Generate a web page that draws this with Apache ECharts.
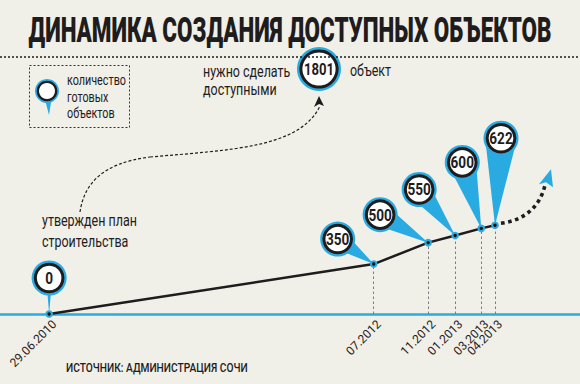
<!DOCTYPE html>
<html><head><meta charset="utf-8">
<script src="https://cdn.jsdelivr.net/npm/echarts@6/dist/echarts.min.js"></script>
<style>html,body{margin:0;padding:0;background:#f0efe8;}#c{width:580px;height:384px;}</style>
</head><body><div id="c"></div>
<script>
// ---- data ----
const dates = ['2010-06-29','2012-07-01','2012-11-01','2013-01-01','2013-03-01','2013-04-01'];
const dateLabels = ['29.06.2010','07.2012','11.2012','01.2013','03.2013','04.2013'];
const counts = [0,350,500,550,600,622];
const target = 1801;
const titleText = 'ДИНАМИКА СОЗДАНИЯ ДОСТУПНЫХ ОБЪЕКТОВ';
const legendText = 'количество\nготовых\nобъектов';
const targetNote = 'нужно сделать\nдоступными';
const targetUnit = 'объект';
const planNote = 'утвержден план\nстроительства';
const sourceText = 'ИСТОЧНИК: АДМИНИСТРАЦИЯ СОЧИ';

// ---- styling (pixel offsets of pin heads relative to their points) ----
const pinOffsets = [[0,-36],[-36,-25],[-48,-28],[-36,-46],[-19,-66],[6,-87]];
const tailHalfWidths = [3,10,11.5,11.5,14,16];
const BLUE = '#29abe2', INK = '#1e1c1d', BG = '#f0efe8';
const FONT = 'Roboto, "Noto Sans", sans-serif';

const ts = s => { const [y,m,d] = s.split('-').map(Number); return Date.UTC(y, m-1, d); };
const xs = dates.map(ts);

const chart = echarts.init(document.getElementById('c'), null, {renderer:'svg'});

const verticals = xs.slice(1).map((x, k) => [
  {coord:[x, 0]}, {coord:[x, counts[k+1]]}
]);

function pinHead(cx, cy, r, label, fontSize, sx) {
  return [
    {type:'circle', shape:{cx, cy, r}, style:{fill:BLUE}},
    {type:'circle', shape:{cx, cy, r:r-2.2}, style:{fill:INK}},
    {type:'circle', shape:{cx, cy, r:r-5.2}, style:{fill:'#fff'}},
    {type:'text', x:cx, y:cy+0.5, scaleX:sx, style:{text:label, font:'bold '+fontSize+'px '+FONT, fill:INK, align:'center', verticalAlign:'middle'}}
  ];
}

const option = {
  backgroundColor: BG,
  animation: false,
  grid: {left:0, right:0, top:57, bottom:70, containLabel:false, outerBoundsMode:'none'},
  xAxis: {
    type:'value', min: ts('2010-03-10'), max: ts('2013-10-10'),
    axisLine:{show:true, onZero:false, lineStyle:{color:BLUE, width:2.5}},
    axisTick:{show:false}, splitLine:{show:false},
    axisLabel:{show:false}
  },
  yAxis: {type:'value', min:0, max:target, show:false},
  series: [
    {
      type:'line', data: xs.map((x,i)=>[x, counts[i]]), symbol:'none', z:3,
      lineStyle:{color:INK, width:2.5},
      markLine:{
        silent:true, symbol:['none','none'], label:{show:false},
        lineStyle:{type:[2.5,2.5], color:'#7d7d7d', width:1},
        data: [
          {yAxis: target, lineStyle:{type:[2,2], color:INK, width:1.5}},
          ...verticals
        ]
      }
    },
    {
      type:'custom', z:5, clip:false,
      data: xs.map((x,i)=>[x, counts[i], i]),
      encode:{x:0, y:1},
      renderItem: (params, api) => {
        const i = api.value(2);
        const v = api.value(1);
        const p = api.coord([api.value(0), v]);
        const base = api.coord([api.value(0), 0]);
        const off = pinOffsets[i];
        const cx = p[0]+off[0], cy = p[1]+off[1];
        const dx = p[0]-cx, dy = p[1]-cy, d = Math.hypot(dx, dy);
        const nx = -dy/d, ny = dx/d, w = tailHalfWidths[i];
        const children = [];
        // rotated date label under the axis
        children.push({type:'text', x:base[0]+1, y:base[1]+4, rotation:Math.PI/4,
          style:{text:dateLabels[i], font:'12px '+FONT, fill:INK, align:'right', verticalAlign:'top'}});
        if (i === counts.length - 1) {
          const px = p[0], py = p[1];
          children.push({type:'bezierCurve', shape:{x1:px+6, y1:py-2, cpx1:px+30, cpy1:py-5, cpx2:px+45, cpy2:py-19, x2:px+50, y2:py-40},
            style:{stroke:INK, lineWidth:3.6, lineDash:[3.6,3.6], fill:null}});
          children.push({type:'polygon', shape:{points:[[px+56,py-56],[px+44,py-41],[px+51,py-43],[px+58,py-38]]}, style:{fill:BLUE}});
        }
        children.push({type:'polygon', shape:{points:[[p[0],p[1]],[cx+nx*w, cy+ny*w],[cx-nx*w, cy-ny*w]]}, style:{fill:BLUE}});
        children.push(...pinHead(cx, cy, 17.5, String(v), 16, 0.85));
        children.push({type:'circle', shape:{cx:p[0], cy:p[1], r:3.8}, style:{fill:BLUE}});
        children.push({type:'circle', shape:{cx:p[0], cy:p[1], r:1.7}, style:{fill:'#111'}});
        return {type:'group', children};
      }
    }
  ],
  graphic: [
    {type:'text', x:290, y:30, scaleX:0.64, style:{text:titleText, font:'900 35px '+FONT, fill:INK, align:'center', verticalAlign:'middle'}},
    // legend
    {type:'rect', shape:{x:29.5, y:65.5, width:100, height:62}, style:{fill:null, stroke:'#333', lineWidth:1, lineDash:[2,2]}},
    {type:'polygon', shape:{points:[[49,115],[44,96],[52,96]]}, style:{fill:BLUE}},
    {type:'circle', shape:{cx:47, cy:91, r:12}, style:{fill:BLUE}},
    {type:'circle', shape:{cx:47, cy:91, r:10.3}, style:{fill:INK}},
    {type:'circle', shape:{cx:47, cy:91, r:8}, style:{fill:'#fff'}},
    {type:'text', x:67, y:96.5, scaleX:0.72, style:{text:legendText, font:'15px '+FONT, lineHeight:16.5, fill:INK, align:'left', verticalAlign:'middle'}},
    // target annotation
    {type:'circle', shape:{cx:319, cy:69, r:22}, style:{fill:BLUE}},
    {type:'circle', shape:{cx:319, cy:69, r:19.6}, style:{fill:INK}},
    {type:'circle', shape:{cx:319, cy:69, r:16.6}, style:{fill:'#fff'}},
    {type:'text', x:319, y:69.5, scaleX:0.82, style:{text:String(target), font:'bold 16px '+FONT, fill:INK, align:'center', verticalAlign:'middle'}},
    {type:'text', x:203, y:81, scaleX:0.78, style:{text:targetNote, font:'16px '+FONT, lineHeight:18, fill:INK, align:'left', verticalAlign:'middle'}},
    {type:'text', x:350, y:71, scaleX:0.78, style:{text:targetUnit, font:'16px '+FONT, fill:INK, align:'left', verticalAlign:'middle'}},
    {type:'text', x:42, y:231.5, scaleX:0.78, style:{text:planNote, font:'16px '+FONT, lineHeight:21, fill:INK, align:'left', verticalAlign:'middle'}},
    {type:'bezierCurve', shape:{x1:80, y1:212, cpx1:84, cpy1:184, cpx2:102, cpy2:163, x2:150, y2:157}, style:{fill:null, stroke:INK, lineWidth:1.2, lineDash:[3,2]}},
    {type:'bezierCurve', shape:{x1:150, y1:157, cpx1:230, cpy1:150, cpx2:300, cpy2:148, x2:320, y2:106}, style:{fill:null, stroke:INK, lineWidth:1.2, lineDash:[3,2]}},
    {type:'polygon', shape:{points:[[319,96],[314,107],[319,104],[324,106]]}, style:{fill:INK}},
    // source
    {type:'text', x:66, y:368, scaleX:0.85, style:{text:sourceText, font:'500 12px '+FONT, fill:INK, align:'left', verticalAlign:'middle'}}
  ]
};
chart.setOption(option);
</script></body></html>
